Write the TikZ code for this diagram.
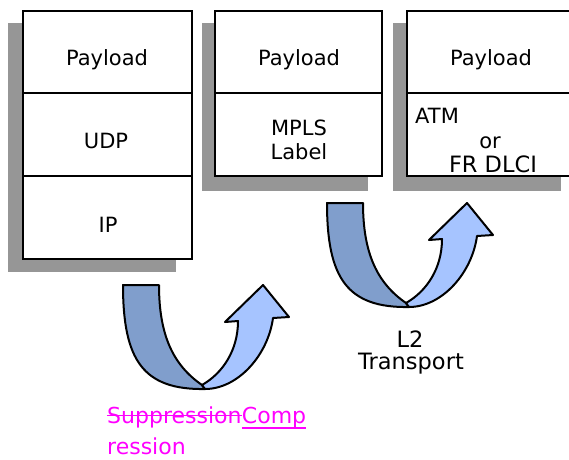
\documentclass[tikz,border=0pt]{standalone}
\usepackage{fontspec}
\setmainfont{DejaVu Sans}
\definecolor{shadowgray}{RGB}{150,150,150}
\definecolor{darkribbon}{RGB}{128,158,204}
\definecolor{lightribbon}{RGB}{166,196,255}
\definecolor{pinktext}{RGB}{255,0,255}
\tikzset{
  cell/.style={draw=black, line width=2.4pt, fill=white, inner sep=0pt, outer sep=0pt},
  shadowbox/.style={fill=shadowgray, draw=none},
  txt/.style={font=\fontsize{21}{24}\selectfont, inner sep=0pt, anchor=base},
  bigtxt/.style={txt, font=\fontsize{22.5}{24}\selectfont},
  pinktxt/.style={font=\fontsize{22}{24}\selectfont, inner sep=0pt, anchor=base west, text=pinktext},
  pinkline/.style={draw=pinktext, line width=1.8pt},
  ribbondark/.style={fill=darkribbon, draw=black, line width=2pt, line join=round},
  ribbonlight/.style={fill=lightribbon, draw=black, line width=2pt, line join=round},
  uturnarrow/.pic={
    \path[ribbondark] (0,0) .. controls (0,75) and (20,105) .. (82,104)
      -- (79,100) .. controls (50,80) and (36,50) .. (36,0) -- cycle;
    \path[ribbonlight] (79,100) -- (82,104) .. controls (115,104) and (145,70) .. (150,33)
      -- (166,32) -- (140,0) -- (102,37) -- (115,36)
      .. controls (115,65) and (100,88) .. (79,100) -- cycle;
  }
}
\begin{document}
\begin{tikzpicture}[x=1pt,y=-1pt]
\useasboundingbox (0,0) rectangle (569,459);
\clip (0,0) rectangle (569,459);
% shadows
\path[shadowbox] (8,23) rectangle (176,272);
\path[shadowbox] (202,23) rectangle (368,191);
\path[shadowbox] (393,23) rectangle (561,191);
% box 1
\node[cell, minimum width=169pt, minimum height=82pt] (b1a) at (107.5,52) {};
\node[cell, minimum width=169pt, minimum height=83pt] (b1b) at (107.5,134.5) {};
\node[cell, minimum width=169pt, minimum height=83pt] (b1c) at (107.5,217.5) {};
\node[txt] (t1a) at (107,65) {Payload};
\node[txt] (t1b) at (106,148) {UDP};
\node[txt] (t1c) at (108,232) {IP};
% box 2
\node[cell, minimum width=167pt, minimum height=82pt] (b2a) at (298.5,52) {};
\node[cell, minimum width=167pt, minimum height=83pt] (b2b) at (298.5,134.5) {};
\node[txt] (t2a) at (299,65) {Payload};
\node[txt] (t2b) at (299,135) {MPLS};
\node[txt] (t2c) at (299,159) {Label};
% box 3
\node[cell, minimum width=168pt, minimum height=82pt] (b3a) at (491,52) {};
\node[cell, minimum width=168pt, minimum height=83pt] (b3b) at (491,134.5) {};
\node[txt] (t3a) at (491,65) {Payload};
\node[txt, anchor=base west] (t3b) at (415,123) {ATM};
\node[txt] (t3c) at (490,148) {or};
\node[bigtxt] (t3d) at (493,172) {FR DLCI};
% arrows
\pic at (123,285) {uturnarrow};
\pic at (327,203) {uturnarrow};
% labels
\node[bigtxt] (l2a) at (410,347) {L2};
\node[bigtxt] (l2b) at (411,369) {Transport};
\node[pinktxt] (supp) at (107,423) {Suppression};
\node[pinktxt] (comp) at (supp.base east) {Comp};
\node[pinktxt] (ress) at (107,454) {ression};
\draw[pinkline] ([yshift=7.5pt]supp.base west) -- ([yshift=7.5pt]supp.base east);
\draw[pinkline] ([yshift=-5pt]comp.base west) -- ([yshift=-5pt]comp.base east);
\end{tikzpicture}
\end{document}
